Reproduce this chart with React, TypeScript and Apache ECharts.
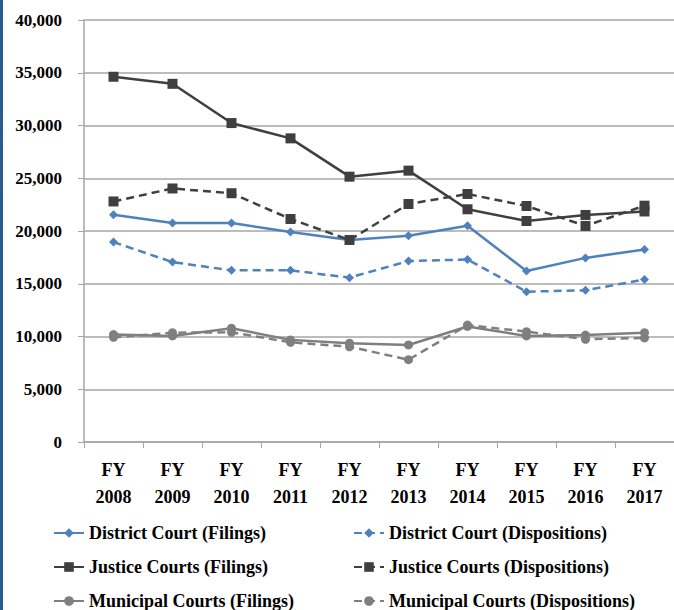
import React, { useEffect, useRef } from "react";
import * as echarts from "echarts";

const years = ["2008", "2009", "2010", "2011", "2012", "2013", "2014", "2015", "2016", "2017"];
const districtFilings = [21550, 20750, 20750, 19900, 19150, 19550, 20500, 16200, 17450, 18250];
const districtDispositions = [18950, 17050, 16270, 16270, 15580, 17150, 17300, 14250, 14380, 15400];
const justiceFilings = [34620, 33950, 30230, 28780, 25150, 25720, 22060, 20950, 21520, 21850];
const justiceDispositions = [22800, 24030, 23580, 21140, 19150, 22560, 23510, 22370, 20480, 22400];
const municipalFilings = [10180, 10050, 10780, 9680, 9360, 9200, 10950, 10050, 10140, 10360];
const municipalDispositions = [9920, 10360, 10400, 9450, 9030, 7800, 11080, 10460, 9740, 9860];
const yTicks = [0, 5000, 10000, 15000, 20000, 25000, 30000, 35000, 40000];

const BLUE = "#4F81BD";
const DARK = "#3F3F3F";
const GRAY = "#7F7F7F";
const FONT = "'Liberation Serif', serif";

export default function App() {
  const ref = useRef<HTMLDivElement>(null);
  useEffect(() => {
    if (!ref.current) return;
    const chart = echarts.init(ref.current, undefined, { renderer: "svg" });
    const mk = (name: string, data: number[], color: string, dashed: boolean, symbol: string, size: number) => ({
      name,
      type: "line",
      data,
      symbol,
      symbolSize: size,
      showSymbol: true,
      itemStyle: { color },
      lineStyle: { color, width: 2.5, type: dashed ? [8, 5] : "solid" },
      emphasis: { disabled: true },
    });
    const names = [
      "District Court (Filings)",
      "District Court (Dispositions)",
      "Justice Courts (Filings)",
      "Justice Courts (Dispositions)",
      "Municipal Courts (Filings)",
      "Municipal Courts (Dispositions)",
    ];
    const legendPos = [
      [53, 523],
      [353, 523],
      [53, 557],
      [353, 557],
      [53, 591],
      [353, 591],
    ];
    const legends = names.map((n, i) => ({
      data: [n],
      left: legendPos[i][0],
      top: legendPos[i][1],
      padding: 0,
      itemWidth: 30,
      itemHeight: 12,
      textStyle: { fontFamily: FONT, fontWeight: "bold", fontSize: 18, color: "#000", lineHeight: 20 },
      selectedMode: false,
    }));
    chart.setOption({
      animation: false,
      backgroundColor: "#fff",
      grid: { left: 84, top: 20, width: 597, bottom: 168 },
      legend: legends,
      graphic: [
        { type: "rect", left: 0, top: 0, shape: { x: 0, y: 0, width: 3, height: 610 }, style: { fill: "#2B5A8C" } },
      ],
      xAxis: {
        type: "category",
        data: years.map((y) => "FY\n" + y),
        boundaryGap: true,
        axisLine: { lineStyle: { color: "#A6A6A6", width: 1.5 } },
        axisTick: { show: true, length: 6, lineStyle: { color: "#A6A6A6" } },
        axisLabel: {
          fontFamily: FONT,
          fontWeight: "bold",
          fontSize: 18,
          color: "#000",
          lineHeight: 27,
          margin: 14,
          interval: 0,
        },
      },
      yAxis: {
        type: "value",
        min: yTicks[0],
        max: yTicks[yTicks.length - 1],
        interval: 5000,
        axisLine: { show: true, lineStyle: { color: "#A6A6A6", width: 1.5 } },
        axisTick: { show: true, length: 6, lineStyle: { color: "#A6A6A6" } },
        splitLine: { show: true, lineStyle: { color: "#A6A6A6", width: 1.5 } },
        axisLabel: {
          fontFamily: FONT,
          fontWeight: "bold",
          fontSize: 17,
          color: "#000",
          margin: 22,
          formatter: (v: number) => v.toLocaleString("en-US"),
        },
      },
      series: [
        mk(names[0], districtFilings, BLUE, false, "diamond", 9),
        mk(names[1], districtDispositions, BLUE, true, "diamond", 9),
        mk(names[2], justiceFilings, DARK, false, "rect", 10),
        mk(names[3], justiceDispositions, DARK, true, "rect", 10),
        mk(names[4], municipalFilings, GRAY, false, "circle", 9),
        mk(names[5], municipalDispositions, GRAY, true, "circle", 9),
      ],
    });
    return () => chart.dispose();
  }, []);
  return <div ref={ref} style={{ position: "fixed", left: 0, top: 0, width: 674, height: 610 }} />;
}
